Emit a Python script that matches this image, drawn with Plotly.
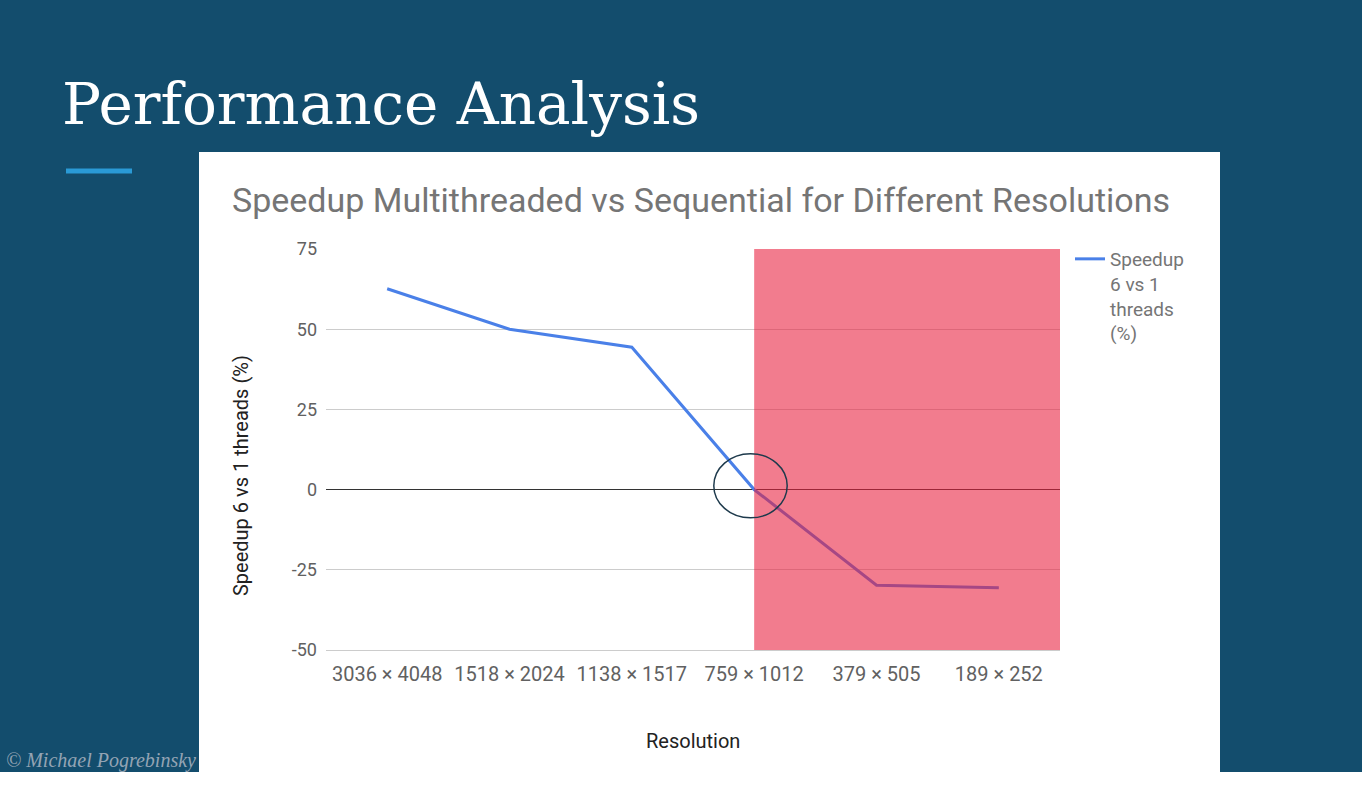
import plotly.graph_objects as go

resolutions = ["3036 × 4048", "1518 × 2024", "1138 × 1517", "759 × 1012", "379 × 505", "189 × 252"]
speedup = [62.6, 50.0, 44.4, 0.0, -29.8, -30.6]
y_ticks = [-50, -25, 0, 25, 50, 75]
y_tick_labels = ["-50", "-25", "0", "25", "50", "75"]

W, H = 1362, 800
L, R, T, B = 326, 1060, 249, 650

def fx(px):
    return (px - L) / (R - L)

def fy(py):
    return (B - py) / (B - T)

slide_bg = "#134d6d"
grey_txt = "#757575"

fig = go.Figure()
fig.add_trace(go.Scatter(
    x=resolutions, y=speedup, mode="lines",
    name="Speedup<br>6 vs 1<br>threads<br>(%)",
    line=dict(color="#4a80e8", width=3),
))

shapes = [
    # slide background and the white chart panel
    dict(type="rect", xref="paper", yref="paper", x0=fx(0), x1=fx(W), y0=fy(772), y1=fy(0),
         fillcolor=slide_bg, line_width=0, layer="below"),
    dict(type="rect", xref="paper", yref="paper", x0=fx(199), x1=fx(1220), y0=fy(772), y1=fy(152),
         fillcolor="white", line_width=0, layer="below"),
    dict(type="line", xref="paper", yref="paper", x0=fx(66), x1=fx(132), y0=fy(171), y1=fy(171),
         line=dict(color="#2a9ad6", width=5), layer="below"),
    # highlighted slowdown zone
    dict(type="rect", xref="x", yref="y", x0=3, x1=5.56, y0=-50, y1=75.6,
         fillcolor="rgba(232,30,60,0.58)", line_width=0, layer="above"),
    dict(type="circle", xref="x", yref="y", x0=2.67, x1=3.27, y0=-8.8, y1=11.2,
         line=dict(color="#1e3a4c", width=1.5), layer="above"),
]

annotations = [
    dict(text="Performance Analysis", xref="paper", yref="paper", x=fx(60), y=fy(104),
         xanchor="left", yanchor="middle", showarrow=False,
         font=dict(family="DejaVu Serif", size=58, color="white")),
    dict(text="Speedup Multithreaded vs Sequential for Different Resolutions",
         xref="paper", yref="paper", x=fx(230), y=fy(200), xanchor="left", yanchor="middle",
         showarrow=False, font=dict(family="Roboto", size=34, color=grey_txt)),
    dict(text="Speedup 6 vs 1 threads (%)", xref="paper", yref="paper", x=fx(241), y=fy(476),
         textangle=-90, xanchor="center", yanchor="middle", showarrow=False,
         font=dict(family="Roboto", size=20, color="#222222")),
    dict(text="Resolution", xref="paper", yref="paper", x=0.5, y=fy(741),
         xanchor="center", yanchor="middle", showarrow=False,
         font=dict(family="Roboto", size=20, color="#222222")),
    dict(text="© Michael Pogrebinsky", xref="paper", yref="paper", x=fx(4), y=fy(760),
         xanchor="left", yanchor="middle", showarrow=False,
         font=dict(family="Liberation Serif", size=20, color="#94a4b4", style="italic")),
]

fig.update_layout(
    width=W, height=H, autosize=False,
    margin=dict(l=L, r=W - R, t=T, b=H - B, pad=0),
    paper_bgcolor="white", plot_bgcolor="rgba(0,0,0,0)",
    font=dict(family="Roboto", color="#616161"),
    shapes=shapes, annotations=annotations,
    showlegend=True,
    legend=dict(x=fx(1070), y=fy(240), xanchor="left", yanchor="top", valign="top",
                font=dict(family="Roboto", size=19, color=grey_txt),
                bgcolor="rgba(0,0,0,0)", itemwidth=30),
    xaxis=dict(range=[-0.5, 5.5], showgrid=False, zeroline=False,
               showline=True, linecolor="#cccccc", linewidth=1,
               tickfont=dict(size=20, color="#616161"), ticklabelstandoff=6),
    yaxis=dict(range=[-50, 75], tickvals=y_ticks, ticktext=y_tick_labels,
               showgrid=True, gridcolor="#cccccc",
               gridwidth=1, zeroline=True, zerolinecolor="#333333", zerolinewidth=1,
               showline=False, tickfont=dict(size=18, color="#616161"), ticklabelstandoff=8),
)

# drop the default page margin so the figure sits at the window corner
fig.write_html("out.html", config={"displayModeBar": False},
               post_script="document.body.style.margin='0';")
